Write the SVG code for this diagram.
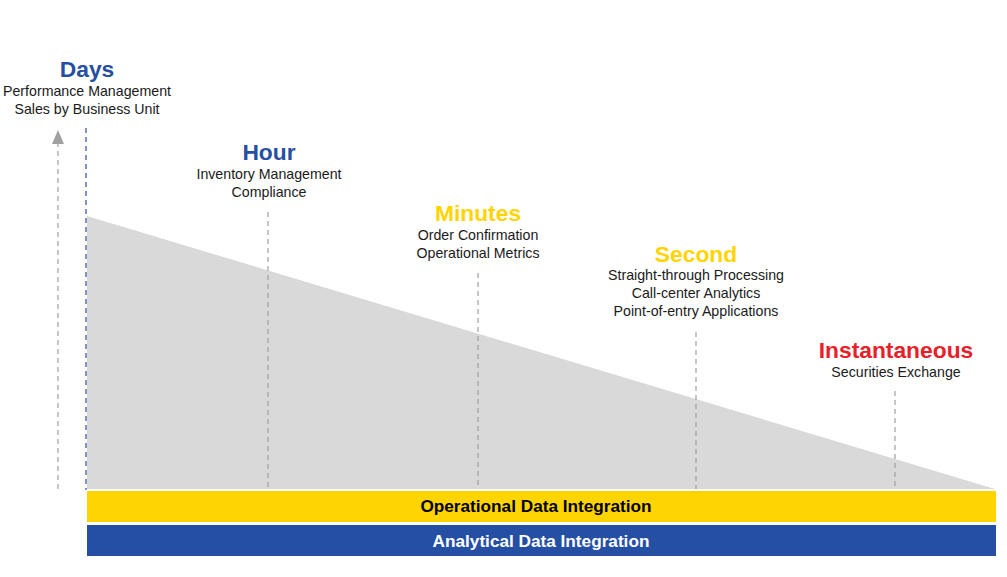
<svg xmlns="http://www.w3.org/2000/svg" width="1007" height="577" viewBox="0 0 1007 577">
  <style>
    .title { font-family: "Liberation Sans", Arial, sans-serif; font-weight: bold; font-size: 22.8px; text-anchor: middle; }
    .sub { font-family: "Liberation Sans", Arial, sans-serif; font-size: 14.2px; fill: #1a1a1a; text-anchor: middle; }
    .bar-label { font-family: "Liberation Sans", Arial, sans-serif; font-weight: bold; font-size: 17.2px; text-anchor: middle; }
    .guide { stroke: #a0a0a0; stroke-width: 1.2; stroke-dasharray: 5 4; fill: none; }
    .blue { fill: #264fa3; }
    .yellow { fill: #ffd400; }
    .red { fill: #e8202a; }
  </style>
  <rect width="1007" height="577" fill="#ffffff"/>

  <!-- latency wedge -->
  <polygon id="wedge" points="87,216 87,489 995,489" fill="#d9d9d9"/>

  <!-- guide lines -->
  <g id="connectors">
    <line class="guide" x1="58" y1="489" x2="58" y2="143"/>
    <polygon points="52,144 58,130 64,144" fill="#a0a0a0"/>
    <line x1="86" y1="128" x2="86" y2="490" stroke="#264fa3" stroke-width="1.2" stroke-dasharray="5 4"/>
    <line class="guide" x1="268" y1="212" x2="268" y2="487"/>
    <line class="guide" x1="478" y1="273" x2="478" y2="489"/>
    <line class="guide" x1="696" y1="332" x2="696" y2="489"/>
    <line class="guide" x1="895" y1="391" x2="895" y2="487"/>
  </g>

  <g id="days">
    <text class="title blue" x="87" y="77">Days</text>
    <text class="sub" x="87" y="96">Performance Management</text>
    <text class="sub" x="87" y="114">Sales by Business Unit</text>
  </g>

  <g id="hour">
    <text class="title blue" x="269" y="160">Hour</text>
    <text class="sub" x="269" y="179">Inventory Management</text>
    <text class="sub" x="269" y="197">Compliance</text>
  </g>

  <g id="minutes">
    <text class="title yellow" x="478" y="221">Minutes</text>
    <text class="sub" x="478" y="240">Order Confirmation</text>
    <text class="sub" x="478" y="258">Operational Metrics</text>
  </g>

  <g id="second">
    <text class="title yellow" x="696" y="262">Second</text>
    <text class="sub" x="696" y="280">Straight-through Processing</text>
    <text class="sub" x="696" y="298">Call-center Analytics</text>
    <text class="sub" x="696" y="316">Point-of-entry Applications</text>
  </g>

  <g id="instantaneous">
    <text class="title red" x="896" y="358">Instantaneous</text>
    <text class="sub" x="896" y="377">Securities Exchange</text>
  </g>

  <g id="operational-bar">
    <rect x="87" y="491" width="909" height="31" fill="#ffd400"/>
    <text class="bar-label" x="536" y="512" fill="#000000">Operational Data Integration</text>
  </g>

  <g id="analytical-bar">
    <rect x="87" y="525" width="909" height="31" fill="#254fa3"/>
    <text class="bar-label" x="541" y="547" fill="#ffffff">Analytical Data Integration</text>
  </g>
</svg>
